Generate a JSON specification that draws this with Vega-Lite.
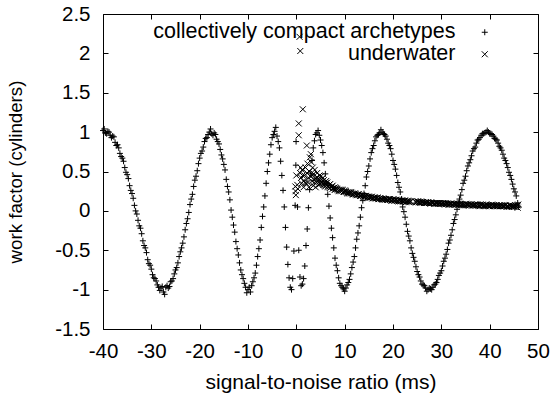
{
  "$schema": "https://vega.github.io/schema/vega-lite/v6.json",
  "width": 435,
  "height": 315,
  "autosize": {"type": "none"},
  "padding": {"left": 103, "top": 14, "right": 16, "bottom": 68},
  "background": "white",
  "config": {
    "view": {"stroke": "black", "strokeWidth": 1},
    "font": "Liberation Sans"
  },
  "datasets": {
    "a": [
      {"x": -40, "y": 1.02}, {"x": -39.75, "y": 1.04}, {"x": -39.5, "y": 0.99}, {"x": -39.25, "y": 0.98}, {"x": -39, "y": 1.01},
      {"x": -38.75, "y": 1.0}, {"x": -38.5, "y": 0.96}, {"x": -38.25, "y": 0.93}, {"x": -38, "y": 0.95}, {"x": -37.75, "y": 0.94},
      {"x": -37.5, "y": 0.87}, {"x": -37.25, "y": 0.83}, {"x": -37, "y": 0.84}, {"x": -36.75, "y": 0.8}, {"x": -36.5, "y": 0.73},
      {"x": -36.25, "y": 0.69}, {"x": -36, "y": 0.67}, {"x": -35.75, "y": 0.63}, {"x": -35.5, "y": 0.55}, {"x": -35.25, "y": 0.49},
      {"x": -35, "y": 0.46}, {"x": -34.75, "y": 0.41}, {"x": -34.5, "y": 0.32}, {"x": -34.25, "y": 0.26}, {"x": -34, "y": 0.22},
      {"x": -33.75, "y": 0.16}, {"x": -33.5, "y": 0.07}, {"x": -33.25, "y": 0.0}, {"x": -33, "y": -0.04}, {"x": -32.75, "y": -0.12},
      {"x": -32.5, "y": -0.19}, {"x": -32.25, "y": -0.22}, {"x": -32, "y": -0.29}, {"x": -31.75, "y": -0.38}, {"x": -31.5, "y": -0.44},
      {"x": -31.25, "y": -0.47}, {"x": -31, "y": -0.53}, {"x": -30.75, "y": -0.62}, {"x": -30.5, "y": -0.67}, {"x": -30.25, "y": -0.69},
      {"x": -30, "y": -0.74}, {"x": -29.75, "y": -0.81}, {"x": -29.5, "y": -0.85}, {"x": -29.25, "y": -0.86}, {"x": -29, "y": -0.89},
      {"x": -28.75, "y": -0.94}, {"x": -28.5, "y": -0.97}, {"x": -28.25, "y": -1.01}, {"x": -28, "y": -0.98}, {"x": -27.75, "y": -0.96},
      {"x": -27.5, "y": -1.03}, {"x": -27.25, "y": -1.06}, {"x": -27, "y": -0.97}, {"x": -26.75, "y": -0.95}, {"x": -26.5, "y": -0.98},
      {"x": -26.25, "y": -0.96}, {"x": -26, "y": -0.9}, {"x": -25.75, "y": -0.89}, {"x": -25.5, "y": -0.86}, {"x": -25.25, "y": -0.8},
      {"x": -25, "y": -0.75}, {"x": -24.75, "y": -0.72}, {"x": -24.5, "y": -0.66}, {"x": -24.25, "y": -0.58}, {"x": -24, "y": -0.52},
      {"x": -23.75, "y": -0.47}, {"x": -23.5, "y": -0.41}, {"x": -23.25, "y": -0.33}, {"x": -23, "y": -0.24}, {"x": -22.75, "y": -0.16},
      {"x": -22.5, "y": -0.1}, {"x": -22.25, "y": -0.02}, {"x": -22, "y": 0.08}, {"x": -21.75, "y": 0.15}, {"x": -21.5, "y": 0.21},
      {"x": -21.25, "y": 0.31}, {"x": -21, "y": 0.39}, {"x": -20.75, "y": 0.44}, {"x": -20.5, "y": 0.51}, {"x": -20.25, "y": 0.6},
      {"x": -20, "y": 0.67}, {"x": -19.75, "y": 0.73}, {"x": -19.5, "y": 0.76}, {"x": -19.25, "y": 0.81}, {"x": -19, "y": 0.88},
      {"x": -18.75, "y": 0.92}, {"x": -18.5, "y": 0.93}, {"x": -18.25, "y": 0.97}, {"x": -18, "y": 1.0}, {"x": -17.75, "y": 1.04},
      {"x": -17.5, "y": 0.98}, {"x": -17.25, "y": 0.96}, {"x": -17, "y": 0.99}, {"x": -16.75, "y": 0.97}, {"x": -16.5, "y": 0.91},
      {"x": -16.25, "y": 0.88}, {"x": -16, "y": 0.85}, {"x": -15.75, "y": 0.78}, {"x": -15.5, "y": 0.71}, {"x": -15.25, "y": 0.66},
      {"x": -15, "y": 0.59}, {"x": -14.75, "y": 0.52}, {"x": -14.5, "y": 0.4}, {"x": -14.25, "y": 0.31}, {"x": -14, "y": 0.24},
      {"x": -13.75, "y": 0.14}, {"x": -13.5, "y": 0.01}, {"x": -13.25, "y": -0.08}, {"x": -13, "y": -0.18}, {"x": -12.75, "y": -0.27},
      {"x": -12.5, "y": -0.39}, {"x": -12.25, "y": -0.48}, {"x": -12, "y": -0.56}, {"x": -11.75, "y": -0.66}, {"x": -11.5, "y": -0.75},
      {"x": -11.25, "y": -0.81}, {"x": -11, "y": -0.86}, {"x": -10.75, "y": -0.92}, {"x": -10.5, "y": -0.97}, {"x": -10.25, "y": -1.04},
      {"x": -10, "y": -1.0}, {"x": -9.75, "y": -0.97}, {"x": -9.5, "y": -1.03}, {"x": -9.25, "y": -0.95}, {"x": -9, "y": -0.9},
      {"x": -8.75, "y": -0.85}, {"x": -8.5, "y": -0.79}, {"x": -8.25, "y": -0.69}, {"x": -8, "y": -0.58}, {"x": -7.75, "y": -0.48},
      {"x": -7.5, "y": -0.37}, {"x": -7.25, "y": -0.21}, {"x": -7, "y": -0.07}, {"x": -6.75, "y": 0.05}, {"x": -6.5, "y": 0.19},
      {"x": -6.25, "y": 0.35}, {"x": -6, "y": 0.5}, {"x": -5.75, "y": 0.61}, {"x": -5.5, "y": 0.72}, {"x": -5.25, "y": 0.84},
      {"x": -5, "y": 0.93}, {"x": -4.75, "y": 0.97}, {"x": -4.5, "y": 1.01}, {"x": -4.25, "y": 1.06}, {"x": -4, "y": 0.95},
      {"x": -3.75, "y": 0.88}, {"x": -3.5, "y": 0.8}, {"x": -3.25, "y": 0.63}, {"x": -3, "y": 0.45}, {"x": -2.75, "y": 0.26},
      {"x": -2.5, "y": 0.05}, {"x": -2.25, "y": -0.21}, {"x": -2, "y": -0.46}, {"x": -1.75, "y": -0.68}, {"x": -1.5, "y": -0.85},
      {"x": -1.25, "y": -0.97}, {"x": -1, "y": -1.0}, {"x": -0.75, "y": -0.86}, {"x": -0.5, "y": -0.51}, {"x": -0.25, "y": 0.07},
      {"x": -0.1, "y": 0.58}, {"x": -0.05, "y": 0.88}, {"x": 0.25, "y": 0.05}, {"x": 0.5, "y": -0.5}, {"x": 0.75, "y": -0.84},
      {"x": 1, "y": -0.95}, {"x": 1.25, "y": -0.93}, {"x": 1.5, "y": -0.86}, {"x": 1.75, "y": -0.7}, {"x": 2, "y": -0.44},
      {"x": 2.25, "y": -0.23}, {"x": 2.5, "y": 0.04}, {"x": 2.75, "y": 0.27}, {"x": 3, "y": 0.47}, {"x": 3.25, "y": 0.64},
      {"x": 3.5, "y": 0.8}, {"x": 3.75, "y": 0.89}, {"x": 4, "y": 0.97}, {"x": 4.25, "y": 0.99}, {"x": 4.5, "y": 1.02},
      {"x": 4.75, "y": 0.96}, {"x": 5, "y": 0.9}, {"x": 5.25, "y": 0.83}, {"x": 5.5, "y": 0.74}, {"x": 5.75, "y": 0.61},
      {"x": 6, "y": 0.47}, {"x": 6.25, "y": 0.35}, {"x": 6.5, "y": 0.21}, {"x": 6.75, "y": 0.06}, {"x": 7, "y": -0.09},
      {"x": 7.25, "y": -0.22}, {"x": 7.5, "y": -0.34}, {"x": 7.75, "y": -0.47}, {"x": 8, "y": -0.6}, {"x": 8.25, "y": -0.69},
      {"x": 8.5, "y": -0.76}, {"x": 8.75, "y": -0.85}, {"x": 9, "y": -0.92}, {"x": 9.25, "y": -0.95}, {"x": 9.5, "y": -0.97},
      {"x": 9.75, "y": -0.99}, {"x": 10, "y": -1.02}, {"x": 10.25, "y": -0.98}, {"x": 10.5, "y": -0.94}, {"x": 10.75, "y": -0.91},
      {"x": 11, "y": -0.87}, {"x": 11.25, "y": -0.8}, {"x": 11.5, "y": -0.72}, {"x": 11.75, "y": -0.65}, {"x": 12, "y": -0.58},
      {"x": 12.25, "y": -0.47}, {"x": 12.5, "y": -0.36}, {"x": 12.75, "y": -0.28}, {"x": 13, "y": -0.19}, {"x": 13.25, "y": -0.08},
      {"x": 13.5, "y": 0.04}, {"x": 13.75, "y": 0.13}, {"x": 14, "y": 0.22}, {"x": 14.25, "y": 0.32}, {"x": 14.5, "y": 0.43},
      {"x": 14.75, "y": 0.5}, {"x": 15, "y": 0.57}, {"x": 15.25, "y": 0.66}, {"x": 15.5, "y": 0.74}, {"x": 15.75, "y": 0.79},
      {"x": 16, "y": 0.83}, {"x": 16.25, "y": 0.89}, {"x": 16.5, "y": 0.94}, {"x": 16.75, "y": 0.96}, {"x": 17, "y": 0.97},
      {"x": 17.25, "y": 0.99}, {"x": 17.5, "y": 1.03}, {"x": 17.75, "y": 1.0}, {"x": 18, "y": 0.98}, {"x": 18.25, "y": 0.97},
      {"x": 18.5, "y": 0.95}, {"x": 18.75, "y": 0.91}, {"x": 19, "y": 0.86}, {"x": 19.25, "y": 0.83}, {"x": 19.5, "y": 0.79},
      {"x": 19.75, "y": 0.72}, {"x": 20, "y": 0.64}, {"x": 20.25, "y": 0.59}, {"x": 20.5, "y": 0.53}, {"x": 20.75, "y": 0.45},
      {"x": 21, "y": 0.36}, {"x": 21.25, "y": 0.3}, {"x": 21.5, "y": 0.24}, {"x": 21.75, "y": 0.15}, {"x": 22, "y": 0.05},
      {"x": 22.25, "y": -0.01}, {"x": 22.5, "y": -0.08}, {"x": 22.75, "y": -0.17}, {"x": 23, "y": -0.26}, {"x": 23.25, "y": -0.32},
      {"x": 23.5, "y": -0.38}, {"x": 23.75, "y": -0.47}, {"x": 24, "y": -0.54}, {"x": 24.25, "y": -0.59}, {"x": 24.5, "y": -0.64},
      {"x": 24.75, "y": -0.71}, {"x": 25, "y": -0.77}, {"x": 25.25, "y": -0.81}, {"x": 25.5, "y": -0.84}, {"x": 25.75, "y": -0.89},
      {"x": 26, "y": -0.93}, {"x": 26.25, "y": -0.94}, {"x": 26.5, "y": -0.95}, {"x": 26.75, "y": -0.98}, {"x": 27, "y": -1.02},
      {"x": 27.25, "y": -1.0}, {"x": 27.5, "y": -0.98}, {"x": 27.75, "y": -0.99}, {"x": 28, "y": -1.0}, {"x": 28.25, "y": -0.97},
      {"x": 28.5, "y": -0.94}, {"x": 28.75, "y": -0.93}, {"x": 29, "y": -0.91}, {"x": 29.25, "y": -0.87}, {"x": 29.5, "y": -0.82},
      {"x": 29.75, "y": -0.79}, {"x": 30, "y": -0.76}, {"x": 30.25, "y": -0.7}, {"x": 30.5, "y": -0.64}, {"x": 30.75, "y": -0.6},
      {"x": 31, "y": -0.55}, {"x": 31.25, "y": -0.49}, {"x": 31.5, "y": -0.41}, {"x": 31.75, "y": -0.37}, {"x": 32, "y": -0.31},
      {"x": 32.25, "y": -0.24}, {"x": 32.5, "y": -0.16}, {"x": 32.75, "y": -0.11}, {"x": 33, "y": -0.05}, {"x": 33.25, "y": 0.02},
      {"x": 33.5, "y": 0.1}, {"x": 33.75, "y": 0.15}, {"x": 34, "y": 0.2}, {"x": 34.25, "y": 0.27}, {"x": 34.5, "y": 0.35},
      {"x": 34.75, "y": 0.39}, {"x": 35, "y": 0.44}, {"x": 35.25, "y": 0.51}, {"x": 35.5, "y": 0.57}, {"x": 35.75, "y": 0.61},
      {"x": 36, "y": 0.65}, {"x": 36.25, "y": 0.7}, {"x": 36.5, "y": 0.76}, {"x": 36.75, "y": 0.79}, {"x": 37, "y": 0.81},
      {"x": 37.25, "y": 0.86}, {"x": 37.5, "y": 0.9}, {"x": 37.75, "y": 0.91}, {"x": 38, "y": 0.93}, {"x": 38.25, "y": 0.96},
      {"x": 38.5, "y": 0.98}, {"x": 38.75, "y": 0.98}, {"x": 39, "y": 0.99}, {"x": 39.25, "y": 1.0}, {"x": 39.5, "y": 1.02},
      {"x": 39.75, "y": 1.0}, {"x": 40, "y": 0.98}, {"x": 40.25, "y": 0.98}, {"x": 40.5, "y": 0.97}, {"x": 40.75, "y": 0.95},
      {"x": 41, "y": 0.92}, {"x": 41.25, "y": 0.91}, {"x": 41.5, "y": 0.9}, {"x": 41.75, "y": 0.86}, {"x": 42, "y": 0.82},
      {"x": 42.25, "y": 0.8}, {"x": 42.5, "y": 0.77}, {"x": 42.75, "y": 0.72}, {"x": 43, "y": 0.67}, {"x": 43.25, "y": 0.64},
      {"x": 43.5, "y": 0.6}, {"x": 43.75, "y": 0.55}, {"x": 44, "y": 0.49}, {"x": 44.25, "y": 0.45}, {"x": 44.5, "y": 0.4},
      {"x": 44.75, "y": 0.34}, {"x": 45, "y": 0.28}, {"x": 45.25, "y": 0.24}, {"x": 45.5, "y": 0.19}, {"x": 45.8, "y": 0.1},
      {"x": 46, "y": 0.05}
    ],
    "b": [
      {"x": -0.2, "y": 0.31}, {"x": -0.15, "y": 0.25}, {"x": -0.1, "y": 0.2}, {"x": 0, "y": 0.45}, {"x": 0.2, "y": 0.33},
      {"x": 0.3, "y": 0.28}, {"x": 0.5, "y": 0.96}, {"x": 0.5, "y": 1.11}, {"x": 0.67, "y": 2.21}, {"x": 0.82, "y": 2.03},
      {"x": 1.34, "y": 1.29}, {"x": 2.17, "y": 0.83}, {"x": 0.8, "y": 0.48}, {"x": 0.9, "y": 0.55}, {"x": 1, "y": 0.42},
      {"x": 1.1, "y": 0.35}, {"x": 1.2, "y": 0.52}, {"x": 1.3, "y": 0.45}, {"x": 1.5, "y": 0.38}, {"x": 1.5, "y": 0.3},
      {"x": 1.7, "y": 0.45}, {"x": 1.8, "y": 0.36}, {"x": 1.9, "y": 0.55}, {"x": 2, "y": 0.35}, {"x": 2.2, "y": 0.48},
      {"x": 2.3, "y": 0.6}, {"x": 2.4, "y": 0.36}, {"x": 2.5, "y": 0.42}, {"x": 2.6, "y": 0.3}, {"x": 2.7, "y": 0.5},
      {"x": 2.8, "y": 0.68}, {"x": 2.9, "y": 0.44}, {"x": 3, "y": 0.72}, {"x": 3.1, "y": 0.62}, {"x": 3.2, "y": 0.38},
      {"x": 3.3, "y": 0.45}, {"x": 3.4, "y": 0.55}, {"x": 3.5, "y": 0.32}, {"x": 3.6, "y": 0.47}, {"x": 3.7, "y": 0.36},
      {"x": 3.8, "y": 0.4}, {"x": 3.8, "y": 0.52}, {"x": 4, "y": 0.3}, {"x": 4.1, "y": 0.42}, {"x": 4.2, "y": 0.36},
      {"x": 4.3, "y": 0.48}, {"x": 4.4, "y": 0.42}, {"x": 4.5, "y": 0.38}, {"x": 4.6, "y": 0.33}, {"x": 4.7, "y": 0.4},
      {"x": 4.8, "y": 0.45}, {"x": 4.9, "y": 0.34}, {"x": 5, "y": 0.38}, {"x": 5.1, "y": 0.44}, {"x": 5.2, "y": 0.4},
      {"x": 5.3, "y": 0.37}, {"x": 5.4, "y": 0.35}, {"x": 5.5, "y": 0.42}, {"x": 5.6, "y": 0.33}, {"x": 5.7, "y": 0.39},
      {"x": 5.8, "y": 0.36}, {"x": 5.9, "y": 0.32}, {"x": 6, "y": 0.31}, {"x": 6.1, "y": 0.35}, {"x": 6.2, "y": 0.38},
      {"x": 6.3, "y": 0.33}, {"x": 6.4, "y": 0.36}, {"x": 6.5, "y": 0.31}, {"x": 6.6, "y": 0.3}, {"x": 6.8, "y": 0.33},
      {"x": 6.9, "y": 0.29}, {"x": 7, "y": 0.34}, {"x": 7.2, "y": 0.3}, {"x": 7.35, "y": 0.31}, {"x": 7.5, "y": 0.28},
      {"x": 7.5, "y": 0.32}, {"x": 7.65, "y": 0.29}, {"x": 7.8, "y": 0.29}, {"x": 7.95, "y": 0.27}, {"x": 8, "y": 0.3},
      {"x": 8.1, "y": 0.27}, {"x": 8.25, "y": 0.29}, {"x": 8.4, "y": 0.28}, {"x": 8.55, "y": 0.27}, {"x": 8.7, "y": 0.26},
      {"x": 8.85, "y": 0.25}, {"x": 9, "y": 0.27}, {"x": 9.15, "y": 0.26}, {"x": 9.3, "y": 0.25}, {"x": 9.45, "y": 0.27},
      {"x": 9.6, "y": 0.26}, {"x": 9.75, "y": 0.24}, {"x": 9.9, "y": 0.24}, {"x": 10.05, "y": 0.26}, {"x": 10.2, "y": 0.25},
      {"x": 10.35, "y": 0.24}, {"x": 10.5, "y": 0.23}, {"x": 10.65, "y": 0.22}, {"x": 10.8, "y": 0.24}, {"x": 10.95, "y": 0.23},
      {"x": 11.1, "y": 0.22}, {"x": 11.25, "y": 0.24}, {"x": 11.4, "y": 0.23}, {"x": 11.55, "y": 0.22}, {"x": 11.7, "y": 0.21},
      {"x": 11.85, "y": 0.21}, {"x": 12, "y": 0.22}, {"x": 12.15, "y": 0.22}, {"x": 12.3, "y": 0.21}, {"x": 12.45, "y": 0.2},
      {"x": 12.6, "y": 0.2}, {"x": 12.75, "y": 0.21}, {"x": 12.9, "y": 0.21}, {"x": 13.05, "y": 0.2}, {"x": 13.2, "y": 0.19},
      {"x": 13.35, "y": 0.19}, {"x": 13.5, "y": 0.2}, {"x": 13.65, "y": 0.2}, {"x": 13.8, "y": 0.19}, {"x": 13.95, "y": 0.18},
      {"x": 14.1, "y": 0.18}, {"x": 14.25, "y": 0.19}, {"x": 14.4, "y": 0.19}, {"x": 14.55, "y": 0.18}, {"x": 14.7, "y": 0.17},
      {"x": 14.85, "y": 0.18}, {"x": 15, "y": 0.18}, {"x": 15.15, "y": 0.17}, {"x": 15.3, "y": 0.17}, {"x": 15.45, "y": 0.17},
      {"x": 15.6, "y": 0.18}, {"x": 15.75, "y": 0.16}, {"x": 15.9, "y": 0.16}, {"x": 16.05, "y": 0.17}, {"x": 16.2, "y": 0.17},
      {"x": 16.35, "y": 0.16}, {"x": 16.5, "y": 0.16}, {"x": 16.65, "y": 0.16}, {"x": 16.8, "y": 0.17}, {"x": 16.95, "y": 0.15},
      {"x": 17.1, "y": 0.15}, {"x": 17.25, "y": 0.16}, {"x": 17.4, "y": 0.16}, {"x": 17.55, "y": 0.15}, {"x": 17.7, "y": 0.15},
      {"x": 17.85, "y": 0.14}, {"x": 18, "y": 0.16}, {"x": 18.15, "y": 0.15}, {"x": 18.3, "y": 0.14}, {"x": 18.45, "y": 0.15},
      {"x": 18.6, "y": 0.15}, {"x": 18.75, "y": 0.14}, {"x": 18.9, "y": 0.14}, {"x": 19.05, "y": 0.14}, {"x": 19.2, "y": 0.15},
      {"x": 19.35, "y": 0.15}, {"x": 19.5, "y": 0.14}, {"x": 19.65, "y": 0.13}, {"x": 19.8, "y": 0.13}, {"x": 19.95, "y": 0.14},
      {"x": 20.1, "y": 0.15}, {"x": 20.25, "y": 0.13}, {"x": 20.4, "y": 0.13}, {"x": 20.55, "y": 0.14}, {"x": 20.7, "y": 0.14},
      {"x": 20.85, "y": 0.13}, {"x": 21, "y": 0.13}, {"x": 21.15, "y": 0.12}, {"x": 21.3, "y": 0.14}, {"x": 21.45, "y": 0.13},
      {"x": 21.6, "y": 0.12}, {"x": 21.75, "y": 0.13}, {"x": 21.9, "y": 0.13}, {"x": 22.05, "y": 0.12}, {"x": 22.2, "y": 0.12},
      {"x": 22.35, "y": 0.13}, {"x": 22.5, "y": 0.13}, {"x": 22.65, "y": 0.11}, {"x": 22.8, "y": 0.12}, {"x": 22.95, "y": 0.12},
      {"x": 23.1, "y": 0.13}, {"x": 23.25, "y": 0.12}, {"x": 23.4, "y": 0.11}, {"x": 23.55, "y": 0.12}, {"x": 23.7, "y": 0.12},
      {"x": 24.6, "y": 0.12}, {"x": 24.75, "y": 0.11}, {"x": 24.9, "y": 0.11}, {"x": 25.05, "y": 0.12}, {"x": 25.2, "y": 0.12},
      {"x": 25.35, "y": 0.11}, {"x": 25.5, "y": 0.11}, {"x": 25.65, "y": 0.1}, {"x": 25.8, "y": 0.12}, {"x": 25.95, "y": 0.11},
      {"x": 26.1, "y": 0.11}, {"x": 26.25, "y": 0.11}, {"x": 26.4, "y": 0.1}, {"x": 26.55, "y": 0.1}, {"x": 26.7, "y": 0.11},
      {"x": 26.85, "y": 0.1}, {"x": 27, "y": 0.1}, {"x": 27.15, "y": 0.11}, {"x": 27.3, "y": 0.11}, {"x": 27.45, "y": 0.1},
      {"x": 27.6, "y": 0.1}, {"x": 27.75, "y": 0.09}, {"x": 27.9, "y": 0.11}, {"x": 28.05, "y": 0.1}, {"x": 28.2, "y": 0.1},
      {"x": 28.35, "y": 0.1}, {"x": 28.5, "y": 0.09}, {"x": 28.65, "y": 0.09}, {"x": 28.8, "y": 0.1}, {"x": 28.95, "y": 0.1},
      {"x": 29.1, "y": 0.1}, {"x": 29.25, "y": 0.09}, {"x": 29.4, "y": 0.09}, {"x": 29.55, "y": 0.1}, {"x": 29.7, "y": 0.1},
      {"x": 29.85, "y": 0.09}, {"x": 30, "y": 0.09}, {"x": 30.15, "y": 0.09}, {"x": 30.3, "y": 0.1}, {"x": 30.45, "y": 0.1},
      {"x": 30.6, "y": 0.09}, {"x": 30.75, "y": 0.08}, {"x": 30.9, "y": 0.1}, {"x": 31.05, "y": 0.09}, {"x": 31.2, "y": 0.09},
      {"x": 31.35, "y": 0.09}, {"x": 31.5, "y": 0.08}, {"x": 31.65, "y": 0.08}, {"x": 31.8, "y": 0.09}, {"x": 31.95, "y": 0.09},
      {"x": 32.1, "y": 0.09}, {"x": 32.25, "y": 0.08}, {"x": 32.4, "y": 0.08}, {"x": 32.55, "y": 0.09}, {"x": 32.7, "y": 0.09},
      {"x": 32.85, "y": 0.08}, {"x": 33, "y": 0.08}, {"x": 33.15, "y": 0.08}, {"x": 33.3, "y": 0.09}, {"x": 33.45, "y": 0.09},
      {"x": 33.6, "y": 0.08}, {"x": 33.75, "y": 0.08}, {"x": 33.9, "y": 0.09}, {"x": 34.05, "y": 0.07}, {"x": 34.2, "y": 0.08},
      {"x": 34.35, "y": 0.08}, {"x": 34.5, "y": 0.07}, {"x": 34.65, "y": 0.08}, {"x": 34.8, "y": 0.08}, {"x": 34.95, "y": 0.07},
      {"x": 35.1, "y": 0.09}, {"x": 35.25, "y": 0.08}, {"x": 35.4, "y": 0.08}, {"x": 35.55, "y": 0.08}, {"x": 35.7, "y": 0.07},
      {"x": 35.85, "y": 0.07}, {"x": 36, "y": 0.08}, {"x": 36.15, "y": 0.08}, {"x": 36.3, "y": 0.08}, {"x": 36.45, "y": 0.07},
      {"x": 36.6, "y": 0.07}, {"x": 36.75, "y": 0.07}, {"x": 36.9, "y": 0.08}, {"x": 37.05, "y": 0.08}, {"x": 37.2, "y": 0.07},
      {"x": 37.35, "y": 0.07}, {"x": 37.5, "y": 0.08}, {"x": 37.65, "y": 0.07}, {"x": 37.8, "y": 0.07}, {"x": 37.95, "y": 0.06},
      {"x": 38.1, "y": 0.08}, {"x": 38.25, "y": 0.07}, {"x": 38.4, "y": 0.07}, {"x": 38.55, "y": 0.08}, {"x": 38.7, "y": 0.06},
      {"x": 38.85, "y": 0.07}, {"x": 39, "y": 0.07}, {"x": 39.15, "y": 0.06}, {"x": 39.3, "y": 0.08}, {"x": 39.45, "y": 0.07},
      {"x": 39.6, "y": 0.07}, {"x": 39.75, "y": 0.07}, {"x": 39.9, "y": 0.06}, {"x": 40.05, "y": 0.06}, {"x": 40.2, "y": 0.07},
      {"x": 40.35, "y": 0.07}, {"x": 40.5, "y": 0.08}, {"x": 40.65, "y": 0.06}, {"x": 40.8, "y": 0.07}, {"x": 40.95, "y": 0.07},
      {"x": 41.1, "y": 0.06}, {"x": 41.25, "y": 0.07}, {"x": 41.4, "y": 0.07}, {"x": 41.55, "y": 0.06}, {"x": 41.7, "y": 0.06},
      {"x": 41.85, "y": 0.07}, {"x": 42, "y": 0.07}, {"x": 42.15, "y": 0.06}, {"x": 42.3, "y": 0.06}, {"x": 42.45, "y": 0.07},
      {"x": 42.6, "y": 0.07}, {"x": 42.75, "y": 0.06}, {"x": 42.9, "y": 0.06}, {"x": 43.05, "y": 0.06}, {"x": 43.2, "y": 0.07},
      {"x": 43.35, "y": 0.07}, {"x": 43.5, "y": 0.05}, {"x": 43.65, "y": 0.06}, {"x": 43.8, "y": 0.06}, {"x": 43.95, "y": 0.05},
      {"x": 44.1, "y": 0.07}, {"x": 44.25, "y": 0.07}, {"x": 44.4, "y": 0.06}, {"x": 44.55, "y": 0.06}, {"x": 44.7, "y": 0.05},
      {"x": 44.85, "y": 0.06}, {"x": 45, "y": 0.06}, {"x": 45.15, "y": 0.05}, {"x": 45.3, "y": 0.07}, {"x": 45.45, "y": 0.06},
      {"x": 45.6, "y": 0.05}, {"x": 45.75, "y": 0.07}, {"x": 45.8, "y": 0.04}, {"x": 45.9, "y": 0.08}
    ]
  },
  "layer": [
    {
      "data": {"name": "a"},
      "mark": {"type": "point", "filled": false, "color": "black", "opacity": 1, "strokeWidth": 1, "size": 36},
      "encoding": {
        "x": {
          "field": "x", "type": "quantitative",
          "scale": {"domain": [-40, 50], "nice": false, "zero": false},
          "axis": {
            "orient": "bottom", "values": [-40, -30, -20, -10, 0, 10, 20, 30, 40, 50],
            "domain": false, "grid": false, "tickSize": -5, "tickColor": "black", "tickWidth": 1,
            "labelFont": "Liberation Sans", "labelFontSize": 20.5, "labelColor": "black", "labelPadding": 17,
            "labelFlush": false, "labelOverlap": false, "labelExpr": "'' + datum.value",
            "title": "signal-to-noise ratio (ms)", "titleFont": "Liberation Sans", "titleFontSize": 21,
            "titleFontWeight": "normal", "titleColor": "black", "titlePadding": 10
          }
        },
        "y": {
          "field": "y", "type": "quantitative",
          "scale": {"domain": [-1.5, 2.5], "nice": false, "zero": false},
          "axis": {
            "orient": "left", "values": [-1.5, -1, -0.5, 0, 0.5, 1, 1.5, 2, 2.5],
            "domain": false, "grid": false, "tickSize": -5, "tickColor": "black", "tickWidth": 1,
            "labelFont": "Liberation Sans", "labelFontSize": 20.5, "labelColor": "black", "labelPadding": 18,
            "labelFlush": false, "labelOverlap": false, "labelExpr": "'' + datum.value",
            "title": "work factor (cylinders)", "titleFont": "Liberation Sans", "titleFontSize": 18.7,
            "titleFontWeight": "normal", "titleColor": "black", "titlePadding": 29
          }
        },
        "shape": {
          "datum": "collectively compact archetypes", "type": "nominal",
          "scale": {
            "domain": ["collectively compact archetypes", "underwater"],
            "range": ["M-1,0L1,0M0,-1L0,1", "M-1,-1L1,1M-1,1L1,-1"]
          },
          "legend": {
            "title": null, "orient": "none", "legendX": 371, "legendY": 7.5, "padding": 0,
            "labelAlign": "right", "labelOffset": -40, "labelFont": "Liberation Sans", "labelFontSize": 21.5,
            "labelColor": "black", "labelLimit": 0, "rowPadding": -1, "symbolSize": 36,
            "symbolStrokeColor": "black", "symbolStrokeWidth": 1, "symbolFillColor": "transparent",
            "symbolOpacity": 1
          }
        }
      }
    },
    {
      "data": {"name": "b"},
      "mark": {"type": "point", "filled": false, "color": "black", "opacity": 1, "strokeWidth": 1, "size": 36},
      "encoding": {
        "x": {"field": "x", "type": "quantitative", "axis": null},
        "y": {"field": "y", "type": "quantitative", "axis": null},
        "shape": {"datum": "underwater", "type": "nominal"}
      }
    },
    {
      "data": {"name": "a"},
      "mark": {"type": "point", "opacity": 0},
      "encoding": {
        "x": {
          "field": "x", "type": "quantitative",
          "axis": {
            "orient": "top", "values": [-40, -30, -20, -10, 0, 10, 20, 30, 40, 50],
            "domain": false, "grid": false, "labels": false, "title": null,
            "tickSize": -5, "tickColor": "black", "tickWidth": 1
          }
        },
        "y": {
          "field": "y", "type": "quantitative",
          "axis": {
            "orient": "right", "values": [-1.5, -1, -0.5, 0, 0.5, 1, 1.5, 2, 2.5],
            "domain": false, "grid": false, "labels": false, "title": null,
            "tickSize": -5, "tickColor": "black", "tickWidth": 1
          }
        }
      }
    }
  ],
  "resolve": {"axis": {"x": "independent", "y": "independent"}}
}
